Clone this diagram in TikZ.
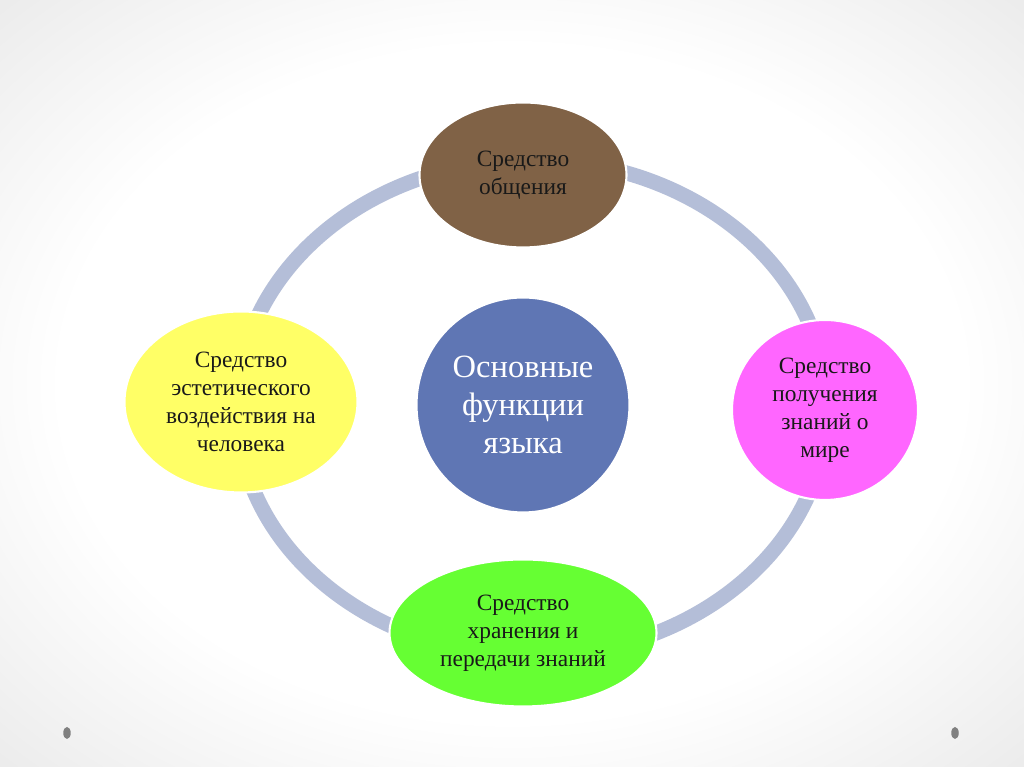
\documentclass[tikz,border=0pt]{standalone}
\usepackage{fontspec}
\setmainfont{Liberation Serif}
\usepackage{tikz}
\usetikzlibrary{shapes.geometric, positioning, calc}
\definecolor{ringgray}{RGB}{180,190,216}
\definecolor{talkbrown}{RGB}{128,98,70}
\definecolor{knowpink}{RGB}{255,102,255}
\definecolor{artyellow}{RGB}{255,255,102}
\definecolor{keepgreen}{RGB}{102,255,51}
\definecolor{corblue}{RGB}{95,118,180}
\definecolor{dotgray}{RGB}{128,128,128}
\pgfdeclareradialshading{slideshade}{\pgfpoint{0bp}{0bp}}{%
  color(0bp)=(white); color(22bp)=(white); color(50bp)=(black!16); color(72bp)=(black!25)}

\begin{document}
\begin{tikzpicture}[
  func/.style={ellipse, draw=white, line width=1.2pt, inner sep=0pt,
               font=\fontsize{13.3}{16}\selectfont, align=center, text=black!90},
  core/.style={func, fill=corblue, text=white, font=\fontsize{18.5}{21.6}\selectfont},
  ring/.style={draw=ringgray, line width=0.3cm},
  pin/.style={ellipse, fill=dotgray, minimum width=0.15cm, minimum height=0.24cm, inner sep=0pt}
]

% Slide background
\path[shading=slideshade] (0,0) rectangle (20.48,15.34);
\useasboundingbox (0,0) rectangle (20.48,15.34);

% Cycle ring
\coordinate (hub) at (10.64,7.18);
\draw[ring] (hub) ellipse [x radius=5.9cm, y radius=4.96cm];

% Functions round the ring
\node[func, fill=talkbrown, minimum width=4.14cm, minimum height=2.9cm] (talk) at (10.46,11.84) {Средство\\общения};
\node[func, fill=knowpink, minimum width=3.72cm, minimum height=3.6cm] (learn) at (16.5,7.14) {Средство\\получения\\знаний о\\мире};
\node[func, fill=keepgreen, minimum width=5.34cm, minimum height=2.94cm] (keep) at (10.46,2.68) {Средство\\хранения и\\передачи знаний};
\node[func, fill=artyellow, minimum width=4.66cm, minimum height=3.62cm] (art) at (4.82,7.3) {Средство\\эстетического\\воздействия на\\человека};

% Centre
\node[core, minimum width=4.26cm, minimum height=4.3cm] (main) at (10.46,7.24) {Основные\\функции\\языка};

% Slide pins
\node[pin] (pinl) at (1.34,0.68) {};
\node[pin] (pinr) at (19.1,0.68) {};

\end{tikzpicture}
\end{document}
